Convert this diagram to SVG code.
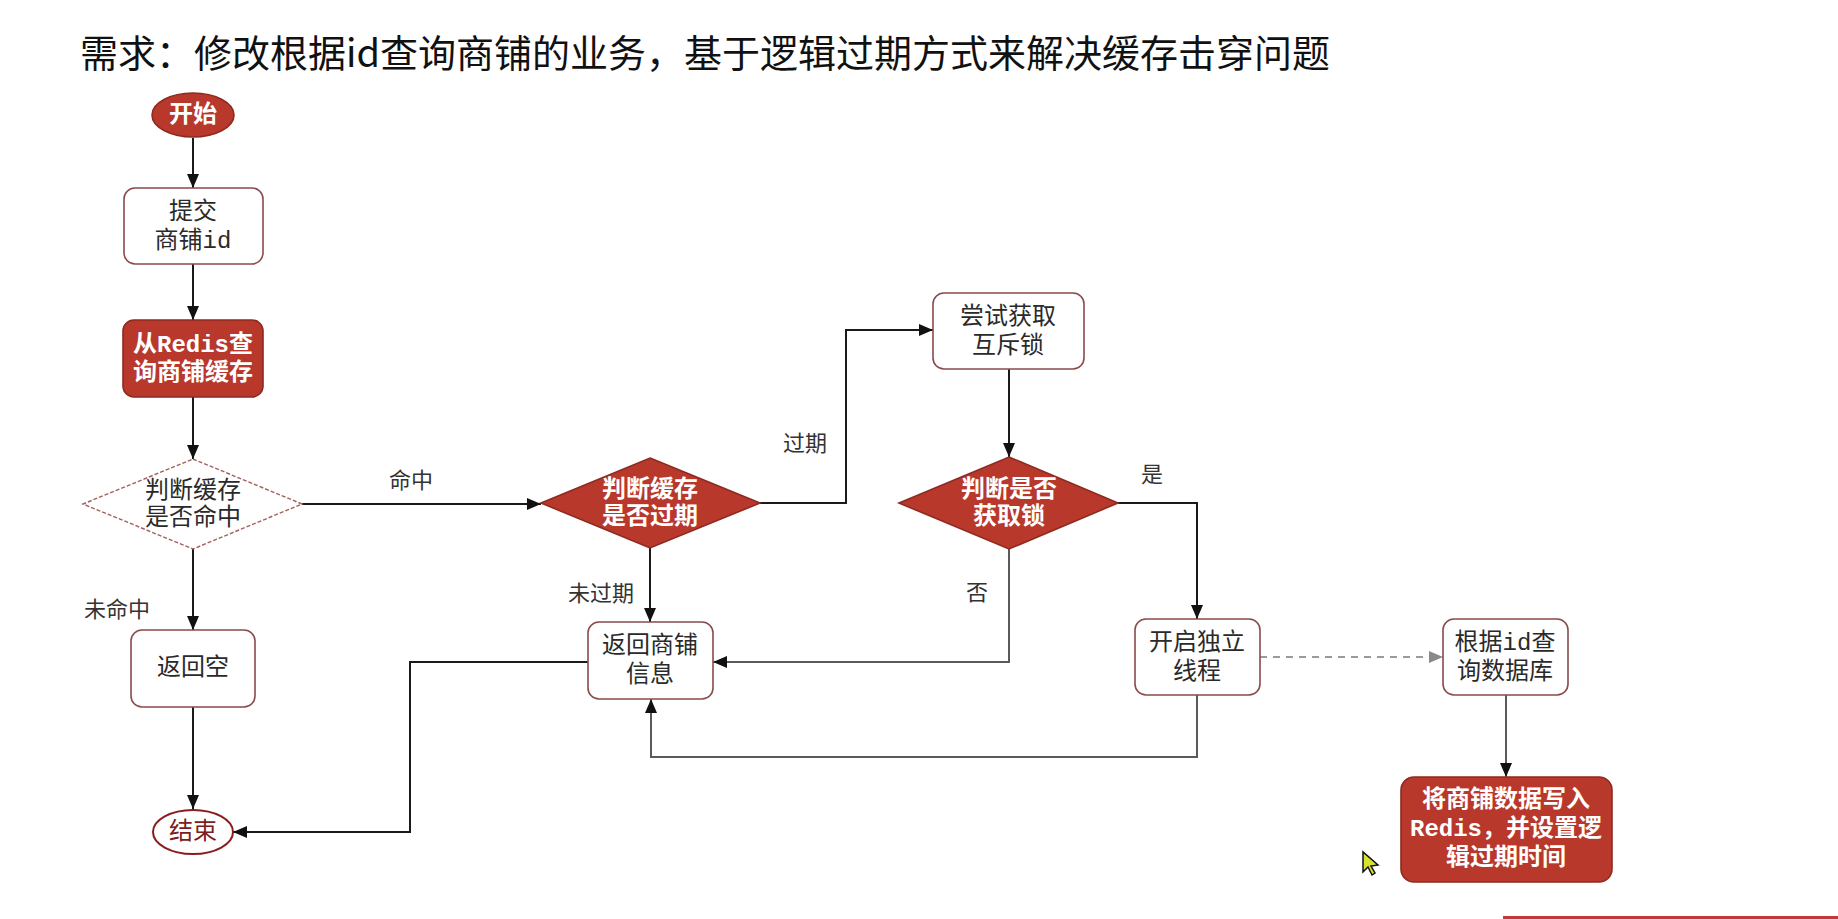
<svg xmlns="http://www.w3.org/2000/svg" width="1838" height="919" viewBox="0 0 1838 919">
<style>
.t{font-family:"Liberation Mono","Noto Sans CJK SC",monospace;font-size:24px;text-anchor:middle;dominant-baseline:central}
.dk{fill:#2a2a2a}
.wt{fill:#ffffff;font-weight:bold}
.lbl{font-family:"Noto Sans CJK SC",sans-serif;font-size:22px;fill:#333;text-anchor:middle;dominant-baseline:central}
.box{fill:#ffffff;stroke:#8a4a4a;stroke-width:1.6}
.red{fill:#b8382c;stroke:#8e2a20;stroke-width:1.6}
.ln{fill:none;stroke:#1a1a1a;stroke-width:2}
.gl{fill:none;stroke:#5a5a5a;stroke-width:2}
</style>
<defs>
<marker id="arr" markerUnits="userSpaceOnUse" markerWidth="14" markerHeight="12" refX="14" refY="6" orient="auto"><path d="M0,0 L14,6 L0,12 z" fill="#111"/></marker>
<marker id="arrg" markerUnits="userSpaceOnUse" markerWidth="14" markerHeight="12" refX="14" refY="6" orient="auto"><path d="M0,0 L14,6 L0,12 z" fill="#8a8a8a"/></marker>
</defs>
<rect width="1838" height="919" fill="#ffffff"/>
<text x="80" y="50" font-family="Noto Sans CJK SC, sans-serif" font-size="38" fill="#111" dominant-baseline="central">需求：修改根据id查询商铺的业务，基于逻辑过期方式来解决缓存击穿问题</text>

<g id="connectors">
<path class="ln" d="M193,138 V188" marker-end="url(#arr)"/>
<path class="ln" d="M193,264 V320" marker-end="url(#arr)"/>
<path class="ln" d="M193,397 V459" marker-end="url(#arr)"/>
<path class="ln" d="M193,549 V630" marker-end="url(#arr)"/>
<path class="ln" d="M193,707 V809" marker-end="url(#arr)"/>
<path class="ln" d="M302,504 H541" marker-end="url(#arr)"/>
<path class="ln" d="M760,503 H846 V330 H933" marker-end="url(#arr)"/>
<path class="ln" d="M1009,369 V457" marker-end="url(#arr)"/>
<path class="ln" d="M650,548 V622" marker-end="url(#arr)"/>
<path class="gl" d="M1009,549 V662 H713" marker-end="url(#arr)"/>
<path class="ln" d="M1118,503 H1197 V619" marker-end="url(#arr)"/>
<path fill="none" stroke="#9a9a9a" stroke-width="2" stroke-dasharray="7,6" d="M1260,657 H1443" marker-end="url(#arrg)"/>
<path class="gl" d="M1197,695 V757 H651 V699" marker-end="url(#arr)"/>
<path class="ln" d="M588,662 H410 V832 H233" marker-end="url(#arr)"/>
<path class="gl" d="M1506,695 V777" marker-end="url(#arr)"/>
<text class="lbl" x="411" y="478">命中</text>
<text class="lbl" x="117" y="607">未命中</text>
<text class="lbl" x="805" y="441">过期</text>
<text class="lbl" x="601" y="591">未过期</text>
<text class="lbl" x="977" y="590">否</text>
<text class="lbl" x="1152" y="472">是</text>
</g>

<g id="start">
<ellipse class="red" cx="193" cy="115" rx="41" ry="22"/>
<text class="t wt" x="193" y="115">开始</text>
</g>
<g id="submit">
<rect class="box" x="124" y="188" width="139" height="76" rx="11"/>
<text class="t dk" x="193" y="212">提交</text>
<text class="t dk" x="193" y="241">商铺id</text>
</g>
<g id="queryRedis">
<rect class="red" x="123" y="320" width="140" height="77" rx="11"/>
<text class="t wt" x="193" y="345">从Redis查</text>
<text class="t wt" x="193" y="373">询商铺缓存</text>
</g>
<g id="isHit">
<polygon points="193,459 302,504 193,549 83,504" fill="#ffffff" stroke="#a0605c" stroke-width="1.4" stroke-dasharray="4,2"/>
<text class="t dk" x="193" y="491">判断缓存</text>
<text class="t dk" x="193" y="518">是否命中</text>
</g>
<g id="returnNull">
<rect class="box" x="131" y="630" width="124" height="77" rx="11"/>
<text class="t dk" x="193" y="668">返回空</text>
</g>
<g id="end">
<ellipse cx="193" cy="832" rx="40" ry="22" fill="#ffffff" stroke="#8a1c1c" stroke-width="2"/>
<text class="t" x="193" y="832" fill="#7a2020">结束</text>
</g>
<g id="isExpired">
<polygon class="red" points="650,458 760,503 650,548 541,503"/>
<text class="t wt" x="650" y="490">判断缓存</text>
<text class="t wt" x="650" y="517">是否过期</text>
</g>
<g id="tryLock">
<rect class="box" x="933" y="293" width="151" height="76" rx="11"/>
<text class="t dk" x="1008" y="317">尝试获取</text>
<text class="t dk" x="1008" y="346">互斥锁</text>
</g>
<g id="isLocked">
<polygon class="red" points="1009,457 1118,503 1009,549 899,503"/>
<text class="t wt" x="1009" y="490">判断是否</text>
<text class="t wt" x="1009" y="517">获取锁</text>
</g>
<g id="returnShop">
<rect class="box" x="588" y="622" width="125" height="77" rx="11"/>
<text class="t dk" x="650" y="646">返回商铺</text>
<text class="t dk" x="650" y="675">信息</text>
</g>
<g id="newThread">
<rect class="box" x="1135" y="619" width="125" height="76" rx="11"/>
<text class="t dk" x="1197" y="643">开启独立</text>
<text class="t dk" x="1197" y="672">线程</text>
</g>
<g id="queryDb">
<rect class="box" x="1443" y="619" width="125" height="76" rx="11"/>
<text class="t dk" x="1505" y="643">根据id查</text>
<text class="t dk" x="1505" y="672">询数据库</text>
</g>
<g id="writeRedis">
<rect class="red" x="1401" y="777" width="211" height="105" rx="13"/>
<text class="t wt" x="1506" y="800">将商铺数据写入</text>
<text class="t wt" x="1506" y="829">Redis，并设置逻</text>
<text class="t wt" x="1506" y="858">辑过期时间</text>
</g>
<polygon points="1363,852 1363,872 1368,867 1372,875 1375,873 1371,866 1378,865 z" fill="#d8e030" stroke="#111" stroke-width="1.5"/>
<rect x="1503" y="916" width="335" height="3" fill="#c0393b"/>
</svg>
